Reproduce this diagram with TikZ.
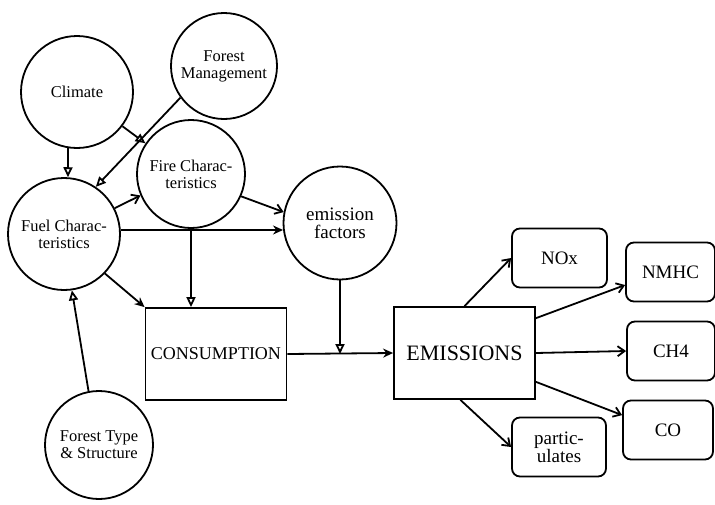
\documentclass[tikz,border=0pt]{standalone}
\usepackage{fontspec}
\setmainfont{Liberation Serif}
\usepackage{tikz}
\usetikzlibrary{arrows.meta}
\tikzstyle{factor}=[draw, circle, line width=1.8pt, inner sep=0pt, align=center, font=\fontsize{16.5}{17}\selectfont]
\tikzstyle{stage}=[draw, rectangle, line width=1.8pt, minimum width=141pt, minimum height=92pt]
\tikzstyle{gas}=[draw, rounded corners=8pt, line width=1.8pt, minimum width=92pt, minimum height=59pt, align=center, font=\fontsize{19}{18}\selectfont]
\tikzstyle{link}=[line width=1.8pt, -{Triangle[open, length=10pt, width=9pt]}]
\tikzstyle{flow}=[line width=1.8pt, -{Stealth[length=10pt, width=9pt]}]
\tikzstyle{yield}=[line width=1.8pt, -{Straight Barb[length=7pt, width=10pt]}]

\begin{document}
\begin{tikzpicture}[x=1pt, y=-1pt]
        \useasboundingbox (0, 0) rectangle (715, 504);
        \node[factor, minimum size=112pt] (clim) at (77, 92) {Climate};
        \node[factor, minimum size=106pt] (mgmt) at (224, 66) {Forest\\Management};
        \node[factor, minimum size=108pt] (fire) at (191, 174) {Fire Charac-\\teristics};
        \node[factor, minimum size=112pt] (fuel) at (64, 234) {Fuel Charac-\\teristics};
        \node[factor, minimum size=113pt, font=\fontsize{19}{18}\selectfont] (ef) at (340, 223) {emission\\factors};
        \node[factor, minimum size=108pt] (type) at (99, 445) {Forest Type\\\& Structure};
        \node[stage, font=\fontsize{18}{20}\selectfont] (cons) at (216, 354) {CONSUMPTION};
        \node[stage, font=\fontsize{22}{22}\selectfont] (emis) at (464.5, 353) {EMISSIONS};
        \node[gas, minimum width=95pt] (nox) at (559.5, 258) {NOx};
        \node[gas, minimum width=89pt] (nmhc) at (670.5, 272) {NMHC};
        \node[gas, minimum width=88pt] (ch4) at (671, 351) {CH4};
        \node[gas, minimum width=90pt] (co) at (668, 430) {CO};
        \node[gas, minimum width=94pt] (part) at (559, 447) {partic-\\ulates};
        \coordinate (join) at (ef.south |- cons.east);
        \draw[link] (clim.-99) -- (fuel.86);
        \draw[link] (clim.-37) -- (fire.146);
        \draw[link] (mgmt.-144) -- (fuel.56);
        \draw[yield] (fuel.27) -- (fire.-157);
        \draw[yield] (fire.-24) -- (ef.169);
        \draw[flow] (fuel.4) -- (ef.187);
        \draw[link] (fire.south) -- (fire.south |- cons.north);
        \draw[flow] (fuel.-44) -- (cons.north west);
        \draw[link] (type.101) -- (fuel.-82);
        \draw[link] (ef.south) -- (join);
        \draw[flow] (cons.east) -- (emis.west);
        \draw[yield] (emis.north) -- (nox.west);
        \draw[yield] (emis.26) -- (nmhc.196);
        \draw[yield] (emis.east) -- (ch4.west);
        \draw[yield] (emis.-22) -- (co.162);
        \draw[yield] (emis.-95) -- (part.west);
    \end{tikzpicture}
\end{document}
